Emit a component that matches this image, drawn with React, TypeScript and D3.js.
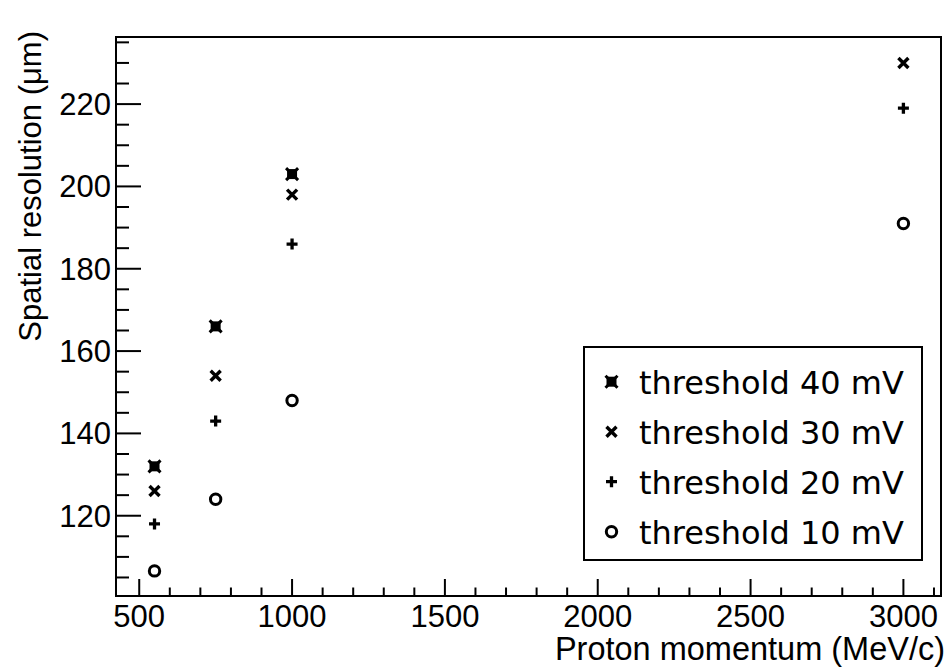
import React from "react";
import * as d3 from "d3";

const momenta40 = [550, 750, 1000];
const res40 = [132, 166, 203];
const momenta30 = [550, 750, 1000, 3000];
const res30 = [126, 154, 198, 230];
const momenta20 = [550, 750, 1000, 3000];
const res20 = [118, 143, 186, 219];
const momenta10 = [550, 750, 1000, 3000];
const res10 = [106.6, 124, 148, 191];

const xMajorTicks = [500, 1000, 1500, 2000, 2500, 3000];
const yMajorTicks = [120, 140, 160, 180, 200, 220];
const legendLabels = ["threshold 40 mV", "threshold 30 mV", "threshold 20 mV", "threshold 10 mV"];
const markerKinds = ["boxstar", "cross", "plus", "circle"];

const W = 952;
const H = 667;
const L = 116, R = 941, T = 37, B = 596;

function Marker({ kind, cx, cy }: { kind: string; cx: number; cy: number }) {
  const a = 5;
  if (kind === "boxstar") {
    return (
      <g>
        <rect x={cx - 5} y={cy - 5} width={10} height={10} fill="#000" />
        <path d={`M${cx - 6},${cy - 6}L${cx + 6},${cy + 6}M${cx - 6},${cy + 6}L${cx + 6},${cy - 6}`} stroke="#000" strokeWidth={3} />
      </g>
    );
  }
  if (kind === "cross") {
    return (
      <path d={`M${cx - a},${cy - a}L${cx + a},${cy + a}M${cx - a},${cy + a}L${cx + a},${cy - a}`} stroke="#000" strokeWidth={3.4} />
    );
  }
  if (kind === "plus") {
    return (
      <path d={`M${cx - 5.5},${cy}L${cx + 5.5},${cy}M${cx},${cy - 5.5}L${cx},${cy + 5.5}`} stroke="#000" strokeWidth={3.3} />
    );
  }
  return <circle cx={cx} cy={cy} r={5.2} fill="none" stroke="#000" strokeWidth={3} />;
}

export default function App() {
  const x = d3.scaleLinear().domain([424, 3123]).range([L, R]);
  const y = d3.scaleLinear().domain([100.5, 236.3]).range([B, T]);

  const xMinor = d3.range(500, 3101, 100).filter((v) => v % 500 !== 0);
  const yMinor = d3.range(105, 236, 5).filter((v) => v % 20 !== 0);

  const series = [
    { kind: markerKinds[0], xs: momenta40, ys: res40 },
    { kind: markerKinds[1], xs: momenta30, ys: res30 },
    { kind: markerKinds[2], xs: momenta20, ys: res20 },
    { kind: markerKinds[3], xs: momenta10, ys: res10 },
  ];

  const axisFont = "'Liberation Sans', Arial, sans-serif";
  const legendFont = "'DejaVu Sans', sans-serif";

  return (
    <svg width={W} height={H} style={{ position: "absolute", left: 0, top: 0 }}>
      <rect x={0} y={0} width={W} height={H} fill="#fff" />
      {/* frame */}
      <rect x={L} y={T} width={R - L} height={B - T} fill="none" stroke="#000" strokeWidth={2} />
      {/* x ticks */}
      {xMajorTicks.map((v) => (
        <line key={"xm" + v} x1={x(v)} x2={x(v)} y1={B} y2={B - 17} stroke="#000" strokeWidth={2} />
      ))}
      {xMinor.map((v) => (
        <line key={"xn" + v} x1={x(v)} x2={x(v)} y1={B} y2={B - 8.5} stroke="#000" strokeWidth={2} />
      ))}
      {/* y ticks */}
      {yMajorTicks.map((v) => (
        <line key={"ym" + v} x1={L} x2={L + 25} y1={y(v)} y2={y(v)} stroke="#000" strokeWidth={2} />
      ))}
      {yMinor.map((v) => (
        <line key={"yn" + v} x1={L} x2={L + 13} y1={y(v)} y2={y(v)} stroke="#000" strokeWidth={2} />
      ))}
      {/* tick labels */}
      {xMajorTicks.map((v) => (
        <text key={"xl" + v} x={x(v)} y={627} textAnchor="middle" fontFamily={axisFont} fontSize={31} fill="#000">
          {v}
        </text>
      ))}
      {yMajorTicks.map((v) => (
        <text key={"yl" + v} x={111} y={y(v) + 11} textAnchor="end" fontFamily={axisFont} fontSize={31} fill="#000">
          {v}
        </text>
      ))}
      {/* axis titles */}
      <text x={945} y={660} textAnchor="end" fontFamily={axisFont} fontSize={32.5} fill="#000">
        Proton momentum (MeV/c)
      </text>
      <text
        transform={`translate(41,31) rotate(-90)`}
        textAnchor="end"
        fontFamily={axisFont}
        fontSize={31}
        fill="#000"
      >
        Spatial resolution (μm)
      </text>
      {/* data */}
      {series.map((s, i) =>
        s.xs.map((xv, j) => <Marker key={i + "-" + j} kind={s.kind} cx={x(xv)} cy={y(s.ys[j])} />)
      )}
      {/* legend */}
      <rect x={584} y={347} width={338} height={213} fill="#fff" stroke="#000" strokeWidth={2} />
      {legendLabels.map((lab, i) => (
        <g key={lab}>
          <Marker kind={markerKinds[i]} cx={611.5} cy={381.7 + i * 50} />
          <text x={639} y={393.5 + i * 50} fontFamily={legendFont} fontSize={32} fill="#000">
            {lab}
          </text>
        </g>
      ))}
    </svg>
  );
}
